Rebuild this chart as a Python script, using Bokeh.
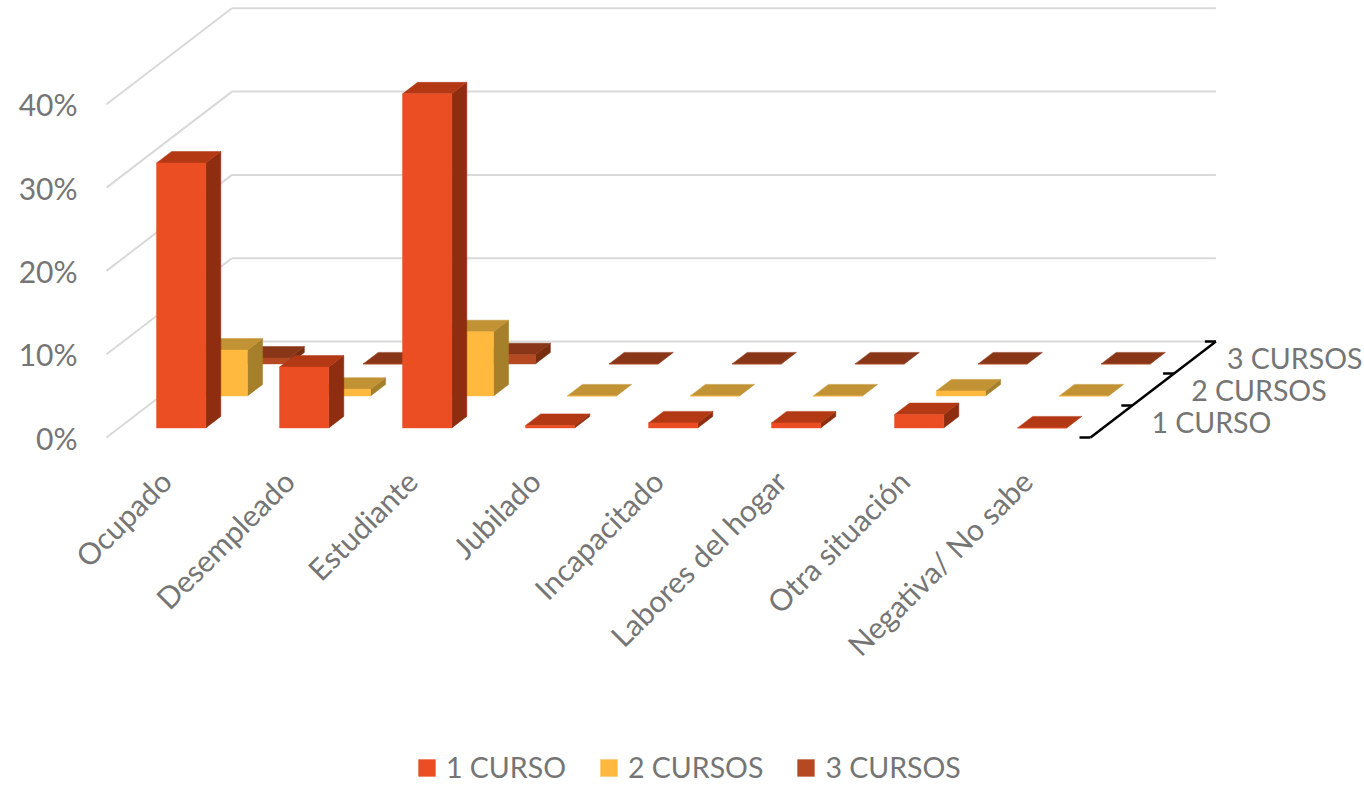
import math
from bokeh.plotting import figure
from bokeh.models import FixedTicker, Legend, LegendItem
from bokeh.core.properties import value
from bokeh.embed import file_html
from bokeh.resources import INLINE

categories = ["Ocupado", "Desempleado", "Estudiante", "Jubilado", "Incapacitado",
              "Labores del hogar", "Otra situación", "Negativa/ No sabe"]
series_names = ["1 CURSO", "2 CURSOS", "3 CURSOS"]
curso_1 = [31.8, 7.3, 40.1, 0.3, 0.6, 0.6, 1.6, 0.0]
curso_2 = [5.5, 0.8, 7.7, 0.0, 0.0, 0.0, 0.6, 0.0]
curso_3 = [0.7, 0.0, 1.1, 0.0, 0.0, 0.0, 0.0, 0.0]
y_ticks = [0, 10, 20, 30, 40]
y_labels = ["0%", "10%", "20%", "30%", "40%"]

front_colors = ["#EA4E22", "#FFB93E", "#B54A22"]
top_colors = ["#B33914", "#C19334", "#893618"]
side_colors = ["#8F2D10", "#A67F2B", "#7A2E10"]
TEXT = "#757575"
FONT = "Lato"

# oblique projection: one series of depth moves this far along x (category units) and y (% units)
DX = 41.8 / 123
DY = 32 / 8.33
BAR_A, BAR_B = 0.305, 0.705   # bar span inside a category slot
D_A, D_B = 0.30, 0.66         # bar span inside a series slot


def px(x, d):
    return x + d * DX


def py(v, d):
    return v + d * DY


p = figure(frame_width=1286, frame_height=781, output_backend="svg", toolbar_location=None,
           x_range=(-28 / 123, 1258 / 123), y_range=(-348 / 8.33, 433 / 8.33),
           min_border_left=78, min_border_right=0, min_border_top=4, min_border_bottom=0,
           outline_line_color=None, background_fill_color="white")
p.grid.visible = False

# walls
n = len(categories)
for t in y_ticks:
    p.line([px(0, 0), px(0, 3)], [py(t, 0), py(t, 3)], line_color="#D9D9D9", line_width=2)
    p.line([px(0, 3), px(n, 3)], [py(t, 3), py(t, 3)], line_color="#D9D9D9", line_width=2)

# bars
all_series = [curso_1, curso_2, curso_3]
legend_items = {}
for s in [2, 1, 0]:
    vals = all_series[s]
    d0, d1 = s + D_A, s + D_B
    for i, v in enumerate(vals):
        x0, x1 = i + BAR_A, i + BAR_B
        if v > 0:
            p.patch([px(x1, d0), px(x1, d1), px(x1, d1), px(x1, d0)],
                    [py(0, d0), py(0, d1), py(v, d1), py(v, d0)],
                    fill_color=side_colors[s], line_color=side_colors[s], line_width=0.5)
        p.patch([px(x0, d0), px(x1, d0), px(x1, d1), px(x0, d1)],
                [py(v, d0), py(v, d0), py(v, d1), py(v, d1)],
                fill_color=top_colors[s], line_color=top_colors[s], line_width=0.5)
        r = p.patch([px(x0, d0), px(x1, d0), px(x1, d0), px(x0, d0)],
                    [py(0, d0), py(0, d0), py(v, d0), py(v, d0)],
                    fill_color=front_colors[s], line_color=front_colors[s], line_width=0.5)
        legend_items[s] = r

# depth axis
p.line([px(n, 0), px(n, 3)], [py(0, 0), py(0, 3)], line_color="black", line_width=2.5)
for d in range(4):
    p.segment([px(n, d)], [py(0, d)], [px(n, d) - 11 / 123], [py(0, d)], line_color="black", line_width=2.5)
series_offsets = [40, 38, 32]
for s, name in enumerate(series_names):
    p.text([px(n, s + 0.5)], [py(0, s + 0.5)], text=[name], x_offset=series_offsets[s], y_offset=0,
           text_font=value(FONT), text_font_size="28.5px", text_color=TEXT,
           text_align="left", text_baseline="middle")

# value axis
p.yaxis.ticker = FixedTicker(ticks=y_ticks)
p.yaxis.major_label_overrides = {t: l for t, l in zip(y_ticks, y_labels)}
p.yaxis.axis_line_color = None
p.yaxis.major_tick_line_color = None
p.yaxis.minor_tick_line_color = None
p.yaxis.major_tick_out = 0
p.yaxis.major_label_standoff = 1
p.yaxis.major_label_text_font = FONT
p.yaxis.major_label_text_font_size = "30px"
p.yaxis.major_label_text_color = TEXT

# category axis, fixed just under the floor
p.xaxis.fixed_location = -3 / 8.33
p.xaxis.ticker = FixedTicker(ticks=[i + 0.48 for i in range(n)])
p.xaxis.major_label_overrides = {i + 0.48: c for i, c in enumerate(categories)}
p.xaxis.major_label_orientation = math.radians(45)
p.xaxis.axis_line_color = None
p.xaxis.major_tick_line_color = None
p.xaxis.minor_tick_line_color = None
p.xaxis.major_label_standoff = 29
p.xaxis.major_label_text_font = FONT
p.xaxis.major_label_text_font_size = "30px"
p.xaxis.major_label_text_color = TEXT

legend = Legend(items=[LegendItem(label=series_names[s], renderers=[legend_items[s]]) for s in range(3)],
                orientation="horizontal", location=(338, 1), border_line_color=None,
                background_fill_color=None, glyph_width=21, glyph_height=21, label_standoff=9,
                spacing=32, margin=0, padding=0,
                label_text_font=FONT, label_text_font_size="28.5px", label_text_color=TEXT,
                label_text_baseline="middle", click_policy="none")
p.add_layout(legend, "center")

open("out.html", "w").write(file_html(p, INLINE))
